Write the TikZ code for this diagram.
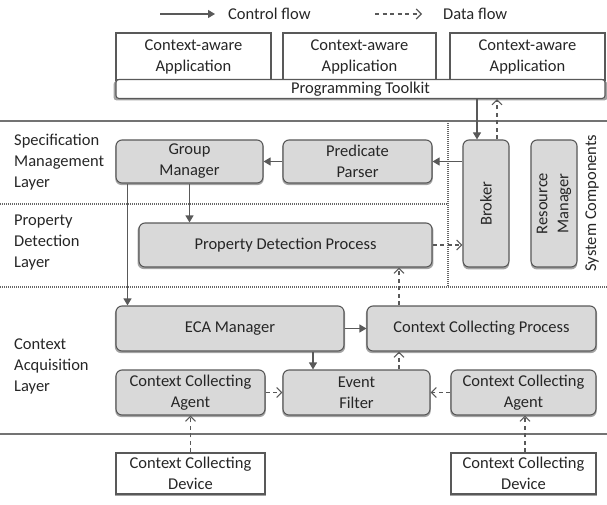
\documentclass[tikz,border=0pt]{standalone}
\usepackage{fontspec}
\setmainfont{Carlito}
\usetikzlibrary{arrows.meta,shadows,calc}
\definecolor{edge}{HTML}{595959}
\definecolor{boxgray}{HTML}{D9D9D9}
\definecolor{txt}{HTML}{262626}
\begin{document}
\begin{tikzpicture}[x=1pt,y=-1pt,
  font=\fontsize{16.5}{21}\selectfont, text=txt,
  base/.style={draw=edge, line width=1.1pt, align=center, inner sep=0pt,
    drop shadow={shadow xshift=0pt, shadow yshift=-1.8pt, shadow scale=1.01, fill=black!60, opacity=.6}},
  wbox/.style={base, fill=white},
  gbox/.style={base, fill=boxgray, rounded corners=6pt},
  ctrl/.style={draw=edge, line width=1.1pt, -{Triangle[length=7pt,width=8pt]}},
  data/.style={draw=edge, line width=1.1pt, dash pattern=on 4pt off 3.5pt, -{Straight Barb[length=5pt,width=10pt]}},
  sepline/.style={draw=black!55, line width=1.6pt},
  dotline/.style={draw=black!60, line width=1.2pt, dash pattern=on 1pt off 1pt},
  lbl/.style={anchor=west, align=left, inner sep=0pt}
]
\useasboundingbox (0,0) rectangle (607,505);

% legend
\coordinate (la) at (160,14);
\coordinate (lb) at (215,14);
\coordinate (lc) at (375,14);
\coordinate (ld) at (422,14);
\draw[ctrl] (la) -- (lb);
\node[lbl] (lt1) at (228,14) {Control flow};
\draw[data] (lc) -- (ld);
\node[lbl] (lt2) at (443,14) {Data flow};

% separators
\draw[sepline] (0,121) -- (607,121);
\draw[sepline] (0,434) -- (607,434);
\draw[dotline] (0,204) -- (448,204);
\draw[dotline] (0,287) -- (607,287);
\draw[dotline] (448,123) -- (448,287);

% top applications
\node[wbox, minimum width=155pt, minimum height=47pt] (app1) at (193.5,56.5) {Context-aware\\Application};
\node[wbox, minimum width=153pt, minimum height=47pt] (app2) at (359.5,56.5) {Context-aware\\Application};
\node[wbox, minimum width=155pt, minimum height=47pt] (app3) at (527.5,56.5) {Context-aware\\Application};
\node[wbox, rounded corners=3pt, minimum width=489pt, minimum height=19pt] (tk) at (360.5,89) {Programming Toolkit};

% layer labels
\node[lbl] (L1) at (14,162) {Specification\\Management\\Layer};
\node[lbl] (L2) at (14,243) {Property\\Detection\\Layer};
\node[lbl] (L3) at (14,366) {Context\\Acquisition\\Layer};
\node[rotate=90, inner sep=0pt] (sc) at (592,203) {System Components};

% gray boxes
\node[gbox, minimum width=147pt, minimum height=43pt] (gm) at (189.5,161.5) {Group\\Manager};
\node[gbox, minimum width=149pt, minimum height=43pt] (pp) at (357.5,161.5) {Predicate\\Parser};
\node[gbox, minimum width=293pt, minimum height=44pt] (pdp) at (285.5,245) {Property Detection Process};
\node[gbox, minimum width=46pt, minimum height=127pt] (br) at (486,203.5) {};
\node[rotate=90] (brt) at (br.center) {Broker};
\node[gbox, minimum width=46pt, minimum height=127pt] (rm) at (554,203.5) {};
\node[rotate=90, align=center] (rmt) at (rm.center) {Resource\\Manager};
\node[gbox, minimum width=228pt, minimum height=45pt] (eca) at (230,328.5) {ECA Manager};
\node[gbox, minimum width=229pt, minimum height=45pt] (ccp) at (481.5,328.5) {Context Collecting Process};
\node[gbox, minimum width=149pt, minimum height=45pt] (ccal) at (190.5,392.5) {Context Collecting\\Agent};
\node[gbox, minimum width=147pt, minimum height=45pt] (ef) at (356.5,392.5) {Event\\Filter};
\node[gbox, minimum width=145pt, minimum height=45pt] (ccar) at (523.5,392.5) {Context Collecting\\Agent};
\node[wbox, minimum width=149pt, minimum height=41pt] (dev1) at (190.5,473.5) {Context Collecting\\Device};
\node[wbox, minimum width=145pt, minimum height=41pt] (dev2) at (523.5,473.5) {Context Collecting\\Device};

% connectors
\coordinate (b1) at ([xshift=-9pt]br.north);
\coordinate (b2) at ([xshift=11pt]br.north);
\draw[ctrl] (b1 |- tk.south) -- (b1);
\draw[data] (b2) -- (b2 |- tk.south);
\draw[ctrl] (br.west |- pp.east) -- (pp.east);
\draw[ctrl] (pp.west) -- (gm.east);
\draw[ctrl] (gm.south) -- (gm.south |- pdp.north);
\coordinate (g2) at ([xshift=-62pt]gm.south);
\draw[ctrl] (g2) -- (g2 |- eca.north);
\draw[data] (pdp.east) -- (pdp.east -| br.west);
\coordinate (c1) at ([xshift=-82.5pt]ccp.north);
\draw[data] (c1) -- (c1 |- pdp.south);
\draw[ctrl] (eca.east) -- (ccp.west);
\coordinate (c2) at ([xshift=83pt]eca.south);
\draw[ctrl] (c2) -- (c2 |- ef.north);
\draw[data] (c1 |- ef.north) -- (c1 |- ccp.south);
\draw[data] (ccal.east) -- (ef.west);
\draw[data] (ccar.west) -- (ef.east);
\draw[data] (dev1.north) -- (ccal.south);
\draw[data] ([xshift=1.5pt]dev2.north) -- ([xshift=1.5pt]ccar.south);
\end{tikzpicture}
\end{document}
